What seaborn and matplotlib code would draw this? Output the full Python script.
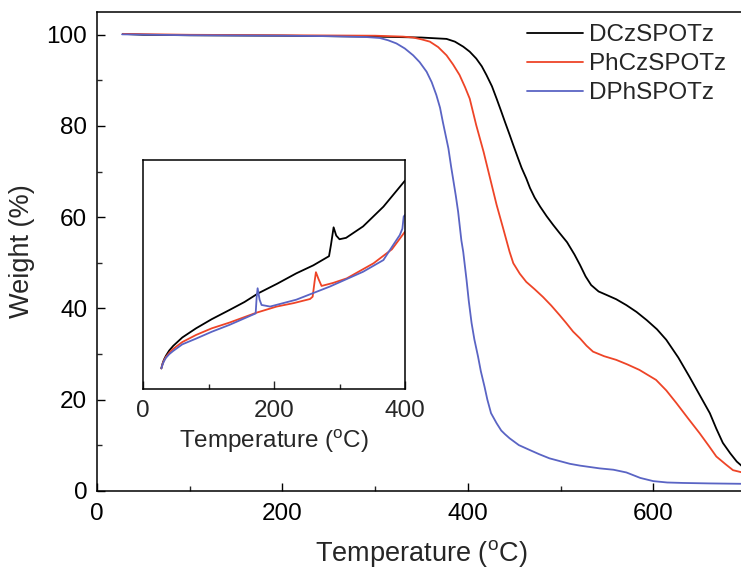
import numpy as np
import pandas as pd
import matplotlib
matplotlib.use("Agg")
import matplotlib.pyplot as plt
import seaborn as sns
from matplotlib.ticker import MultipleLocator

# ---------------- data ----------------
series_names = ["DCzSPOTz", "PhCzSPOTz", "DPhSPOTz"]
series_colors = ["#000000", "#EE4427", "#5A64C4"]

# main TGA curves (Temperature in C, Weight in %)
dcz_T = [28, 50, 100, 200, 300, 350, 377, 386, 395, 402, 409, 415, 420, 426, 431, 436, 440, 445,
         449, 454, 458, 463, 467, 472, 478, 485, 492, 499, 507, 515, 521, 527, 533, 541, 550,
         560, 571, 582, 593, 604, 614, 627, 639, 650, 661, 668, 675, 683, 690, 700]
dcz_W = [100.2, 100.0, 99.9, 99.8, 99.6, 99.4, 99.1, 98.5, 97.4, 96.3, 94.8, 93.1, 91.2, 88.7,
         86.0, 83.2, 80.9, 78.1, 75.8, 73.0, 70.8, 68.5, 66.4, 64.3, 62.3, 60.2, 58.3, 56.5,
         54.5, 51.8, 49.5, 47.0, 45.1, 43.7, 42.9, 42.0, 40.7, 39.2, 37.4, 35.4, 33.1, 29.2,
         25.0, 21.0, 17.0, 13.6, 10.5, 8.2, 6.4, 4.6]

phcz_T = [28, 100, 200, 300, 330, 341, 350, 359, 368, 377, 384, 391, 397, 402, 409, 417, 424,
          431, 438, 445, 449, 456, 463, 472, 481, 490, 499, 506, 513.5, 521, 528, 535, 547, 560,
          572, 585, 603, 614, 625, 637, 650, 660, 668, 678, 686, 700]
phcz_W = [100.2, 100.0, 99.9, 99.8, 99.6, 99.4, 99.0, 98.5, 97.3, 95.5, 93.5, 91.2, 88.5, 86.0,
          80.2, 74.3, 68.5, 62.7, 57.6, 52.4, 49.9, 47.6, 45.8, 44.2, 42.5, 40.6, 38.5, 36.8,
          34.9, 33.4, 31.8, 30.5, 29.5, 28.7, 27.7, 26.5, 24.3, 22.0, 19.2, 16.0, 12.6, 9.8,
          7.5, 5.8, 4.5, 3.8]

dph_T = [27, 100, 200, 250, 291, 305, 314, 323, 332, 341, 348, 355.5, 361, 366, 370, 373, 376,
         379, 382, 384, 387, 389.5, 393, 395, 398.6, 401, 404, 407, 411, 414, 418, 421, 425,
         428, 431, 436, 440, 445, 455, 467, 477, 488, 499, 510, 521, 542, 557, 571, 586, 600,
         615, 632, 660, 700]
dph_W = [100.1, 99.9, 99.8, 99.7, 99.5, 99.3, 98.8, 98.1, 97.0, 95.5, 94.0, 91.9, 89.6, 86.8,
         84.0, 80.9, 78.0, 75.1, 71.0, 68.5, 64.7, 61.2, 54.9, 52.4, 46.2, 41.6, 36.8, 33.2,
         29.4, 26.2, 22.8, 20.0, 17.0, 15.9, 14.8, 13.2, 12.4, 11.5, 10.0, 8.9, 8.0, 7.1, 6.5,
         5.9, 5.5, 4.9, 4.6, 4.0, 2.8, 2.1, 1.8, 1.7, 1.6, 1.5]

# inset curves (Temperature in C, arbitrary units)
in_dcz_T = [28, 30, 32, 35, 40, 46, 60, 81, 105, 132, 155, 176, 205, 234, 260, 284, 287, 291,
            295, 300, 310, 336, 367, 400]
in_dcz_V = [9, 11.2, 12.8, 14.5, 16.8, 18.8, 22.5, 26.5, 30.5, 34.5, 38, 41.8, 46, 50.5, 54,
            58, 63, 70.6, 67, 65.4, 66, 71, 79.6, 91]

in_phcz_T = [28, 30, 32, 35, 40, 46, 60, 81, 105, 132, 173, 204, 230, 255, 259, 262, 264, 268,
             272.6, 290, 311, 352, 380, 400]
in_phcz_V = [9, 11, 12.5, 14, 15.8, 17.5, 20.5, 23.6, 26.5, 29, 33.3, 36, 37.5, 39.3, 40.3,
             47, 51, 48, 45, 46.3, 48.3, 54.9, 61, 68.7]

in_dph_T = [28, 30, 32, 35, 40, 46, 60, 81, 105, 132, 172, 173.5, 175, 178, 181, 194, 234, 285,
            336, 367, 382, 392, 396, 398, 400]
in_dph_V = [9, 10.8, 12.1, 13.6, 15.2, 16.6, 19.5, 22, 25, 28, 33, 40, 44, 39, 36.7, 36, 39,
            44.7, 51.2, 56.3, 62.9, 67.2, 70, 75.3, 76]

main_xticks = [0, 200, 400, 600]
main_yticks = [0, 20, 40, 60, 80, 100]
inset_xticks = [0, 200, 400]

# ---------------- style ----------------
sns.set_theme(style="ticks")
plt.rcParams["font.family"] = ["Liberation Sans", "DejaVu Sans"]
plt.rcParams["mathtext.fontset"] = "custom"
plt.rcParams["mathtext.rm"] = "Liberation Sans"

fig = plt.figure(figsize=(7.41, 5.70), dpi=100)
fig.patch.set_facecolor("white")

ax = fig.add_axes([97 / 741, 1 - 490.7 / 570, 649 / 741, (490.7 - 12) / 570])

main_data = [(dcz_T, dcz_W), (phcz_T, phcz_W), (dph_T, dph_W)]
for (t, w), name, col in zip(main_data, series_names, series_colors):
    df = pd.DataFrame({"T": t, "W": w})
    sns.lineplot(data=df, x="T", y="W", ax=ax, color=col, lw=1.3, label=name,
                 estimator=None, sort=False)

ax.set_xlim(0, 700)
ax.set_ylim(0, 105)
ax.set_xticks(main_xticks)
ax.set_yticks(main_yticks)
ax.xaxis.set_minor_locator(MultipleLocator(100))
ax.yaxis.set_minor_locator(MultipleLocator(10))
ax.tick_params(axis="both", which="major", direction="in", length=6, width=1.0,
               labelsize=17.5, colors="black")
ax.tick_params(axis="both", which="minor", direction="in", length=3.5, width=1.0)
ax.tick_params(axis="x", which="major", pad=9)
ax.tick_params(axis="y", which="major", pad=7)
ax.tick_params(top=False, right=False, which="both")
for s in ax.spines.values():
    s.set_linewidth(1.1)
    s.set_color("black")
ax.spines["right"].set_visible(False)
ax.set_xlabel(r"Temperature ($\mathregular{^{o}}$C)", fontsize=19.5, labelpad=9)
ax.set_ylabel("Weight (%)", fontsize=19.5, labelpad=8)

leg = ax.legend(loc="upper left", bbox_to_anchor=(527 / 741, 1 - 24 / 570),
                bbox_transform=fig.transFigure, frameon=False, fontsize=17.5,
                handlelength=2.3, handletextpad=0.25, labelspacing=0.29,
                borderpad=0, borderaxespad=0)
for line in leg.get_lines():
    line.set_linewidth(1.3)

# ---------------- inset ----------------
axin = fig.add_axes([143 / 741, 1 - 389 / 570, 262 / 741, 229 / 570])
inset_data = [(in_dcz_T, in_dcz_V), (in_phcz_T, in_phcz_V), (in_dph_T, in_dph_V)]
for (t, v), col in zip(inset_data, series_colors):
    df = pd.DataFrame({"T": t, "V": v})
    sns.lineplot(data=df, x="T", y="V", ax=axin, color=col, lw=1.3,
                 estimator=None, sort=False, legend=False)
axin.set_xlim(0, 400)
axin.set_ylim(0, 100)
axin.set_xticks(inset_xticks)
axin.xaxis.set_minor_locator(MultipleLocator(100))
axin.set_yticks([])
axin.tick_params(axis="x", which="major", direction="in", length=6, width=1.0,
                 labelsize=17.5, pad=8)
axin.tick_params(axis="x", which="minor", direction="in", length=3.5, width=1.0)
for s in axin.spines.values():
    s.set_linewidth(1.1)
    s.set_color("black")
axin.set_xlabel(r"Temperature ($\mathregular{^{o}}$C)", fontsize=17.5, labelpad=4)
axin.set_ylabel("")

fig.savefig("out.png", dpi=100, facecolor="white")
